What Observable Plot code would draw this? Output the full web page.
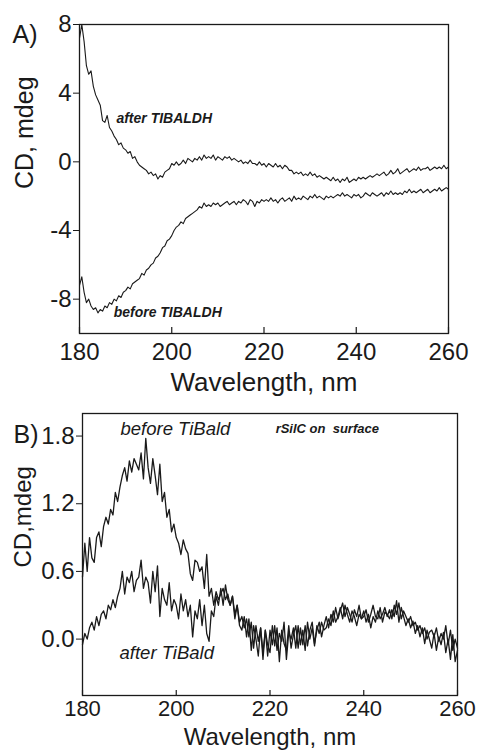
<!DOCTYPE html>
<html>
<head>
<meta charset="utf-8">
<script src="https://cdn.jsdelivr.net/npm/d3@7"></script>
<script src="https://cdn.jsdelivr.net/npm/@observablehq/plot@0.6"></script>
<style>
  html, body { margin: 0; padding: 0; background: #fff; }
  #chart { position: relative; width: 477px; height: 752px; background: #fff; overflow: hidden; }
  #chart svg { position: absolute; left: 0; }
</style>
</head>
<body>
<div id="chart"></div>
<script>
// ---------- data ----------
const wavelengthStart = 180;
const wavelengthStep = 0.5;

const xTicks = [180, 200, 220, 240, 260];
const yTicksA = [-8, -4, 0, 4, 8];
const yTicksB = [0.0, 0.6, 1.2, 1.8];

// Panel A, CD (mdeg), 180–260 nm every 0.5 nm
const afterTIBALDH = [
  7.2, 8.0, 7.0, 5.6, 5.1, 5.3, 4.4, 3.9, 3.6, 3.3,
  2.4, 2.3, 2.7, 2.0, 1.8, 1.5, 1.3, 1.0, 1.1, 0.8,
  0.7, 0.5, 0.6, 0.2, 0.3, 0.0, -0.2, -0.3, -0.4, -0.5,
  -0.7, -0.6, -0.8, -0.7, -1.0, -0.8, -0.9, -0.6, -0.5, -0.4,
  -0.1, -0.2, 0.0, -0.2, -0.1, 0.1, -0.1, 0.2, 0.1, 0.0,
  0.2, 0.1, 0.3, 0.1, 0.4, 0.2, 0.3, 0.2, 0.4, 0.1,
  0.3, 0.2, 0.1, 0.3, 0.2, 0.3, 0.1, 0.2, 0.1, 0.0,
  0.1, -0.1, 0.0, -0.1, 0.1, -0.1, -0.1, -0.2, 0.0, -0.2,
  -0.1, -0.3, -0.1, -0.2, -0.3, -0.1, -0.3, -0.2, -0.4, -0.2,
  -0.3, -0.5, -0.5, -0.7, -0.6, -0.7, -0.6, -0.8, -0.7, -0.8,
  -0.6, -0.8, -0.7, -0.9, -0.8, -0.9, -1.0, -0.9, -1.0, -1.1,
  -0.9, -1.1, -1.0, -1.2, -1.0, -1.1, -0.9, -1.2, -1.1, -1.0,
  -1.1, -0.9, -1.0, -0.9, -1.0, -0.9, -0.8, -0.9, -0.8, -0.7,
  -0.8, -0.7, -0.6, -0.8, -0.7, -0.5, -0.7, -0.6, -0.4, -0.7,
  -0.6, -0.5, -0.4, -0.6, -0.5, -0.4, -0.5, -0.3, -0.5, -0.4,
  -0.4, -0.3, -0.5, -0.4, -0.3, -0.4, -0.3, -0.4, -0.2, -0.4,
  -0.3
];
const beforeTIBALDH = [
  -7.2, -6.7, -7.6, -8.2, -8.0, -8.4, -8.6, -8.5, -8.8, -8.6,
  -8.7, -8.4, -8.5, -8.2, -8.3, -8.0, -8.1, -7.8, -7.9, -7.6,
  -7.5, -7.3, -7.4, -7.1, -7.0, -6.9, -6.8, -6.5, -6.6, -6.3,
  -6.2, -6.0, -5.9, -5.6, -5.5, -5.3, -5.0, -4.9, -4.6, -4.5,
  -4.3, -4.0, -3.8, -3.7, -3.5, -3.6, -3.3, -3.2, -3.1, -3.0,
  -2.9, -2.8, -2.6, -2.7, -2.4, -2.6, -2.5, -2.6, -2.4, -2.5,
  -2.4, -2.6, -2.5, -2.4, -2.3, -2.5, -2.4, -2.3, -2.5, -2.3,
  -2.4, -2.2, -2.3, -2.5, -2.2, -2.3, -2.6, -2.3, -2.4, -2.2,
  -2.3, -2.2, -2.3, -2.1, -2.3, -2.2, -2.4, -2.2, -2.1, -2.3,
  -2.2, -2.1, -2.3, -2.0, -2.2, -2.1, -2.2, -2.0, -2.1, -2.2,
  -2.0, -2.1, -1.9, -2.1, -2.0, -2.1, -2.2, -2.0, -2.1, -2.0,
  -2.1, -2.0, -1.9, -2.0, -1.8, -2.0, -1.9, -2.0, -2.1, -1.9,
  -2.0, -1.9, -2.1, -2.0, -1.8, -1.9, -2.0, -1.8, -1.9, -2.0,
  -1.9, -1.8, -2.0, -1.8, -1.9, -1.7, -1.9, -1.8, -1.9, -1.8,
  -1.9, -1.7, -1.8, -1.6, -1.8, -1.7, -1.8, -1.7, -1.6, -1.8,
  -1.7, -1.6, -1.8, -1.7, -1.6, -1.7, -1.5, -1.7, -1.6, -1.5,
  -1.6
];

// Panel B, CD (mdeg), 180–260 nm every 0.5 nm
const beforeTiBald = [
  0.55, 0.85, 0.6, 0.9, 0.72, 0.68, 0.9, 0.95, 0.82, 1.0,
  1.08, 1.02, 1.15, 1.1, 1.3, 1.22, 1.35, 1.45, 1.52, 1.4,
  1.58, 1.48, 1.6, 1.55, 1.5, 1.65, 1.42, 1.78, 1.52, 1.38,
  1.6, 1.45, 1.28, 1.55, 1.22, 1.3, 1.08, 1.15, 0.95, 1.02,
  0.9, 0.85, 0.75, 0.88, 0.8, 0.76, 0.58, 0.52, 0.7, 0.68,
  0.6, 0.64, 0.45, 0.75, 0.38, 0.45, 0.3, 0.42, 0.35, 0.4,
  0.45, 0.35, 0.4, 0.3, 0.38, 0.22, 0.3, 0.15, 0.2, 0.1,
  0.18, 0.02, 0.15, -0.08, 0.12, -0.02, 0.1, -0.12, 0.08, -0.15,
  0.08, -0.05, 0.12, -0.1, 0.05, -0.02, 0.15, -0.18, 0.06, 0.0,
  0.1, -0.08, 0.12, -0.05, 0.08, -0.1, 0.15, 0.0, 0.1, -0.06,
  0.12, 0.05, 0.15, 0.08, 0.1, 0.18, 0.12, 0.25, 0.15, 0.2,
  0.28, 0.18, 0.3, 0.22, 0.15, 0.25, 0.2, 0.12, 0.22, 0.18,
  0.25, 0.15, 0.22, 0.1, 0.2, 0.15, 0.25, 0.18, 0.22, 0.28,
  0.2, 0.26, 0.18, 0.3, 0.22, 0.32, 0.18, 0.25, 0.2, 0.15,
  0.2, 0.12, 0.15, 0.08, 0.12, 0.05, 0.1, 0.0, 0.06, 0.08,
  0.02, 0.1, -0.02, 0.05, 0.0, 0.12, -0.05, 0.08, -0.1, 0.0,
  -0.08
];
const afterTiBald = [
  -0.05, 0.05, 0.0, 0.1, 0.15, 0.08, 0.2, 0.12, 0.22, 0.25,
  0.18, 0.3, 0.26, 0.35, 0.28, 0.38, 0.45, 0.6, 0.4, 0.55,
  0.5, 0.6, 0.42, 0.52, 0.55, 0.7, 0.45, 0.55, 0.5, 0.32,
  0.6, 0.42, 0.65, 0.2, 0.45, 0.35, 0.3, 0.5, 0.25, 0.35,
  0.3, 0.18, 0.4, 0.25, 0.35, 0.2, 0.3, 0.02, 0.25, 0.18,
  0.35, 0.12, 0.3, 0.05, -0.02, 0.25, 0.2, 0.38, 0.3, 0.45,
  0.3, 0.48, 0.35, 0.3, 0.38, 0.18, 0.3, 0.12, 0.08, 0.2,
  0.02, 0.18, -0.1, 0.12, 0.0, -0.15, 0.1, -0.18, 0.08, -0.05,
  -0.12, 0.12, -0.06, 0.1, -0.2, 0.08, -0.04, -0.1, 0.12, -0.08,
  0.04, 0.12, -0.08, 0.1, -0.05, 0.12, -0.06, 0.08, 0.15, -0.04,
  0.08, 0.15, 0.02, 0.12, 0.2, 0.1, 0.22, 0.15, 0.28, 0.18,
  0.25, 0.32, 0.2, 0.28, 0.22, 0.15, 0.26, 0.2, 0.3, 0.18,
  0.2, 0.26, 0.15, 0.22, 0.3, 0.2, 0.18, 0.28, 0.15, 0.24,
  0.22, 0.18, 0.26, 0.2, 0.34, 0.15, 0.28, 0.2, 0.12, 0.18,
  0.1, 0.16, 0.05, 0.12, 0.02, 0.1, -0.04, 0.08, 0.0, -0.08,
  0.05, -0.1, 0.02, -0.05, 0.06, -0.12, 0.0, -0.18, 0.04, -0.2,
  -0.1
];

// annotation labels (wavelength, CD)
const labelsA = [
  {text: "after TIBALDH", x: 188, y: 2.5},
  {text: "before TIBALDH", x: 187.4, y: -8.75}
];
const labelsBItalic = [
  {text: "before TiBald", x: 188.1, y: 1.86},
  {text: "after TiBald", x: 187.9, y: -0.12}
];
const labelsBBold = [
  {text: "rSilC on  surface", x: 221.2, y: 1.86}
];

// ---------- build ----------
const toRows = arr => arr.map((v, i) => ({x: wavelengthStart + i * wavelengthStep, y: v}));
const font = "'Liberation Sans', Arial, Helvetica, sans-serif";
const ink = "#1a1a1a";

const hA = 400, mtA = 24, mbA = 67;
const plotA = Plot.plot({
  width: 477, height: hA,
  marginTop: mtA, marginBottom: mbA, marginLeft: 79, marginRight: 29,
  style: {fontFamily: font, background: "transparent", color: ink},
  x: {domain: [180, 260]},
  y: {domain: [-10, 8]},
  marks: [
    Plot.frame({stroke: ink, strokeWidth: 1.3}),
    Plot.line(toRows(afterTIBALDH), {x: "x", y: "y", stroke: ink, strokeWidth: 1.1}),
    Plot.line(toRows(beforeTIBALDH), {x: "x", y: "y", stroke: ink, strokeWidth: 1.1}),
    Plot.axisY({ticks: yTicksA, tickSize: 6, tickPadding: 2, fontSize: 24, tickFormat: d => String(d), label: null, stroke: ink}),
    Plot.axisX({ticks: xTicks, tickSize: 0, tickPadding: 9, fontSize: 24, tickFormat: d => String(d), label: null}),
    Plot.tickX(xTicks, {x: d => d, insetTop: hA - mtA - mbA - 6, stroke: ink, strokeWidth: 1.2}),
    Plot.text(["Wavelength, nm"], {frameAnchor: "bottom", dy: 39, lineAnchor: "top", fontSize: 26, fill: ink}),
    Plot.text(["CD, mdeg"], {frameAnchor: "left", rotate: -90, dx: -55, dy: 10, fontSize: 25, fill: ink}),
    Plot.text(["A)"], {frameAnchor: "top-left", dx: -67, dy: 1, textAnchor: "start", fontSize: 25, fill: ink}),
    Plot.text(labelsA, {x: "x", y: "y", text: "text", textAnchor: "start", fontSize: 14, fontWeight: "bold", fontStyle: "italic", fill: ink})
  ]
});
plotA.style.top = "0px";

const hB = 352, mtB = 13, mbB = 57;
const plotB = Plot.plot({
  width: 477, height: hB,
  marginTop: mtB, marginBottom: mbB, marginLeft: 82, marginRight: 20,
  style: {fontFamily: font, background: "transparent", color: ink},
  x: {domain: [180, 260]},
  y: {domain: [-0.5, 2.0]},
  marks: [
    Plot.frame({stroke: ink, strokeWidth: 1.3}),
    Plot.line(toRows(beforeTiBald), {x: "x", y: "y", stroke: ink, strokeWidth: 1.3}),
    Plot.line(toRows(afterTiBald), {x: "x", y: "y", stroke: ink, strokeWidth: 1.3}),
    Plot.axisY({ticks: yTicksB, tickSize: 6, tickPadding: 2, fontSize: 24, tickFormat: d => d.toFixed(1), label: null, stroke: ink}),
    Plot.axisX({ticks: xTicks, tickSize: 0, tickPadding: 5, fontSize: 22, tickFormat: d => String(d), label: null}),
    Plot.tickX(xTicks, {x: d => d, insetTop: hB - mtB - mbB - 5, stroke: ink, strokeWidth: 1.2}),
    Plot.text(["Wavelength, nm"], {frameAnchor: "bottom", dy: 32, lineAnchor: "top", fontSize: 24, fill: ink}),
    Plot.text(["CD,mdeg"], {frameAnchor: "left", rotate: -90, dx: -59, dy: 13, fontSize: 24, fill: ink}),
    Plot.text(["B)"], {frameAnchor: "top-left", dx: -69, dy: 12, textAnchor: "start", fontSize: 25, fill: ink}),
    Plot.text(labelsBItalic, {x: "x", y: "y", text: "text", textAnchor: "start", fontSize: 18.5, fontStyle: "italic", fill: ink}),
    Plot.text(labelsBBold, {x: "x", y: "y", text: "text", textAnchor: "start", fontSize: 13, fontWeight: "bold", fontStyle: "italic", fill: ink, style: "letter-spacing:0.5px"})
  ]
});
plotB.style.top = "400px";

const chart = document.getElementById("chart");
chart.appendChild(plotA);
chart.appendChild(plotB);
</script>
</body>
</html>
